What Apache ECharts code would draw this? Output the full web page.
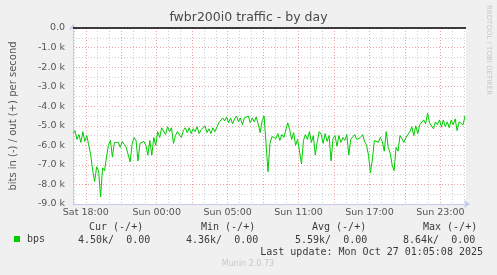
<!DOCTYPE html>
<html>
<head>
<meta charset="utf-8">
<script src="https://cdn.jsdelivr.net/npm/echarts@6/dist/echarts.min.js"></script>
<style>
html,body{margin:0;padding:0;background:#f0f0f0;}
#c{width:497px;height:275px;}
</style>
</head>
<body>
<div id="c"></div>
<script>
// ---- data ----
const stepMinutes = 10; // one sample every 10 minutes, starting at left edge (Sat 16:55)
const bpsIn = [ // kbit/s, "in" drawn negative
-5.38,-5.25,-5.7,-5.45,-5.85,-5.3,-5.8,-5.5,-6.0,-6.5,
-7.3,-7.85,-7.1,-7.3,-8.64,-7.15,-7.3,-6.6,-6.0,-5.75,
-6.6,-5.85,-5.75,-5.85,-6.1,-5.8,-5.95,-6.1,-6.0,-6.85,
-5.95,-5.6,-5.75,-6.8,-5.9,-6.0,-5.8,-6.0,-6.5,-5.75,
-6.5,-5.6,-6.0,-5.3,-5.6,-5.1,-5.0,-5.45,-5.05,-5.3,
-5.1,-5.9,-5.5,-5.3,-5.2,-5.6,-5.25,-5.1,-5.35,-5.1,
-5.4,-5.15,-5.3,-5.05,-5.4,-5.2,-5.3,-5.0,-5.35,-5.15,
-5.4,-5.1,-5.3,-5.2,-4.85,-4.8,-4.6,-4.75,-4.55,-4.85,
-4.6,-4.9,-4.65,-4.5,-4.8,-4.6,-4.95,-4.6,-4.7,-4.5,
-4.85,-4.6,-4.8,-4.55,-4.9,-5.35,-4.75,-4.5,-4.6,-7.35,
-5.9,-5.55,-5.45,-5.65,-5.4,-5.75,-5.45,-5.6,-5.5,-4.85,
-5.2,-5.7,-5.35,-6.0,-5.7,-5.8,-6.95,-5.75,-5.45,-5.7,
-5.3,-5.85,-5.5,-6.5,-5.8,-5.3,-5.45,-5.9,-5.4,-5.8,
-5.5,-6.8,-5.65,-5.5,-6.05,-5.5,-5.85,-5.6,-5.75,-5.45,
-6.5,-5.7,-5.8,-5.45,-5.7,-5.65,-5.6,-5.45,-5.8,-6.0,
-6.5,-7.4,-6.7,-5.75,-5.65,-5.85,-5.6,-5.8,-6.3,-5.3,
-6.1,-6.4,-7.0,-7.3,-6.1,-6.3,-5.5,-5.55,-5.85,-5.6,
-5.5,-5.3,-5.05,-5.5,-5.0,-5.4,-4.95,-4.85,-4.7,-4.9,
-4.36,-4.85,-4.75,-5.15,-4.8,-4.95,-4.7,-5.05,-4.7,-5.05,
-4.8,-5.1,-4.7,-4.95,-4.65,-5.25,-4.8,-4.85,-4.95,-4.5
];
const xTickLabels = ['Sat 18:00','Sun 00:00','Sun 05:00','Sun 11:00','Sun 17:00','Sun 23:00'];
const xTickMinutes = [65, 425, 785, 1145, 1505, 1865]; // minutes after left edge
const xHourLines = [5,65,125,185,245,305,365,425,485,545,605,665,725,785,845,905,965,1025,1085,1145,1205,1265,1325,1385,1445,1505,1565,1625,1685,1745,1805,1865,1925,1985];
const statHeaders = ['Cur (-/+)','Min (-/+)','Avg (-/+)','Max (-/+)'];
const statIn = ['4.50k','4.36k','5.59k','8.64k'];
const statOut = ['0.00','0.00','0.00','0.00'];

// ---- layout ----
const headerX = [89, 201, 312, 423];
const valueX = [78, 186, 295, 403];
const mono = '10px "DejaVu Sans Mono"';
const axisCol = '#c4c9ee';
const majorCol = '#f0a3a3';
const minorCol = '#cfcfcf';

const seriesData = bpsIn.map((v, i) => [i * stepMinutes, v]);

const graphics = [];
statHeaders.forEach((h, i) => graphics.push({type:'text', x: headerX[i], y: 227, silent:true,
  style:{text:h, font:mono, fill:'#3a3a3a', align:'left', verticalAlign:'middle'}}));
statIn.forEach((v, i) => graphics.push({type:'text', x: valueX[i], y: 240, silent:true,
  style:{text: v + '/  ' + statOut[i], font:mono, fill:'#3a3a3a', align:'left', verticalAlign:'middle'}}));
graphics.push({type:'text', x: 483, y: 252, silent:true,
  style:{text:'Last update: Mon Oct 27 01:05:08 2025', font:mono, fill:'#3a3a3a', align:'right', verticalAlign:'middle'}});
graphics.push({type:'text', x: 248, y: 264, silent:true,
  style:{text:'Munin 2.0.73', font:'8px "DejaVu Sans"', fill:'#c8c8c8', align:'center', verticalAlign:'middle'}});
graphics.push({type:'text', x: 489, y: 5, rotation: -Math.PI/2, silent:true,
  style:{text:'RRDTOOL / TOBI OETIKER', font:'7px "DejaVu Sans"', fill:'#c8c8c8', align:'left', verticalAlign:'middle'}});

const chart = echarts.init(document.getElementById('c'), null, {renderer:'canvas'});
chart.setOption({
  backgroundColor:'#f0f0f0',
  animation:false,
  title:{text:'fwbr200i0 traffic - by day', left:'center', top:11, padding:0,
    textStyle:{fontFamily:'DejaVu Sans', fontSize:12.5, fontWeight:'normal', color:'#4a4a4a'}},
  grid:{left:67, top:28, right:31, bottom:71, show:true, backgroundColor:'#ffffff', borderWidth:0},
  legend:{data:['bps'], left:14, top:234, padding:0, icon:'rect', itemWidth:6, itemHeight:6,
    textStyle:{fontFamily:'DejaVu Sans Mono', fontSize:10, color:'#3a3a3a', padding:[0,0,0,2]}},
  graphic: graphics,
  xAxis:{type:'value', min:0, max:1995,
    axisLine:{show:true, onZero:false, lineStyle:{color:axisCol, width:1}, symbol:['none','arrow'], symbolSize:[6,6], symbolOffset:[0,4]},
    axisTick:{show:false, customValues:xHourLines},
    splitLine:{show:true, lineStyle:{color:[minorCol, majorCol, minorCol], type:[1,2], width:1}},
    axisLabel:{customValues:xTickMinutes, margin:4, fontFamily:'DejaVu Sans', fontSize:9.5, color:'#555',
      formatter:(v)=>{const k = xTickMinutes.indexOf(v); return k>=0 ? xTickLabels[k] : '';}}
  },
  yAxis:{type:'value', min:-9, max:0, interval:0.5,
    name:'bits in (-) / out (+) per second', nameLocation:'middle', nameGap:55, nameRotate:90,
    nameTextStyle:{fontFamily:'DejaVu Sans', fontSize:10, color:'#555'},
    axisLine:{show:true, onZero:false, lineStyle:{color:axisCol, width:1}, symbol:['none','arrow'], symbolSize:[6,6], symbolOffset:[0,4]},
    axisTick:{show:false},
    splitLine:{show:true, lineStyle:{color:[majorCol, minorCol], type:[1,2], width:1}},
    axisLabel:{margin:8, fontFamily:'DejaVu Sans', fontSize:9.5, color:'#555',
      formatter:(v)=>{ if (Math.abs(v - Math.round(v)) > 1e-6) return ''; return v === 0 ? '0.0' : v.toFixed(1) + ' k'; }}
  },
  series:[{name:'bps', type:'line', data:seriesData, showSymbol:false, symbol:'none',
    lineStyle:{color:'#00cc00', width:1}, itemStyle:{color:'#00cc00'},
    markLine:{silent:true, symbol:'none', label:{show:false}, animation:false,
      lineStyle:{color:'#000', width:1.5, type:'solid'}, data:[{yAxis:0}]}
  }]
});
</script>
</body>
</html>
